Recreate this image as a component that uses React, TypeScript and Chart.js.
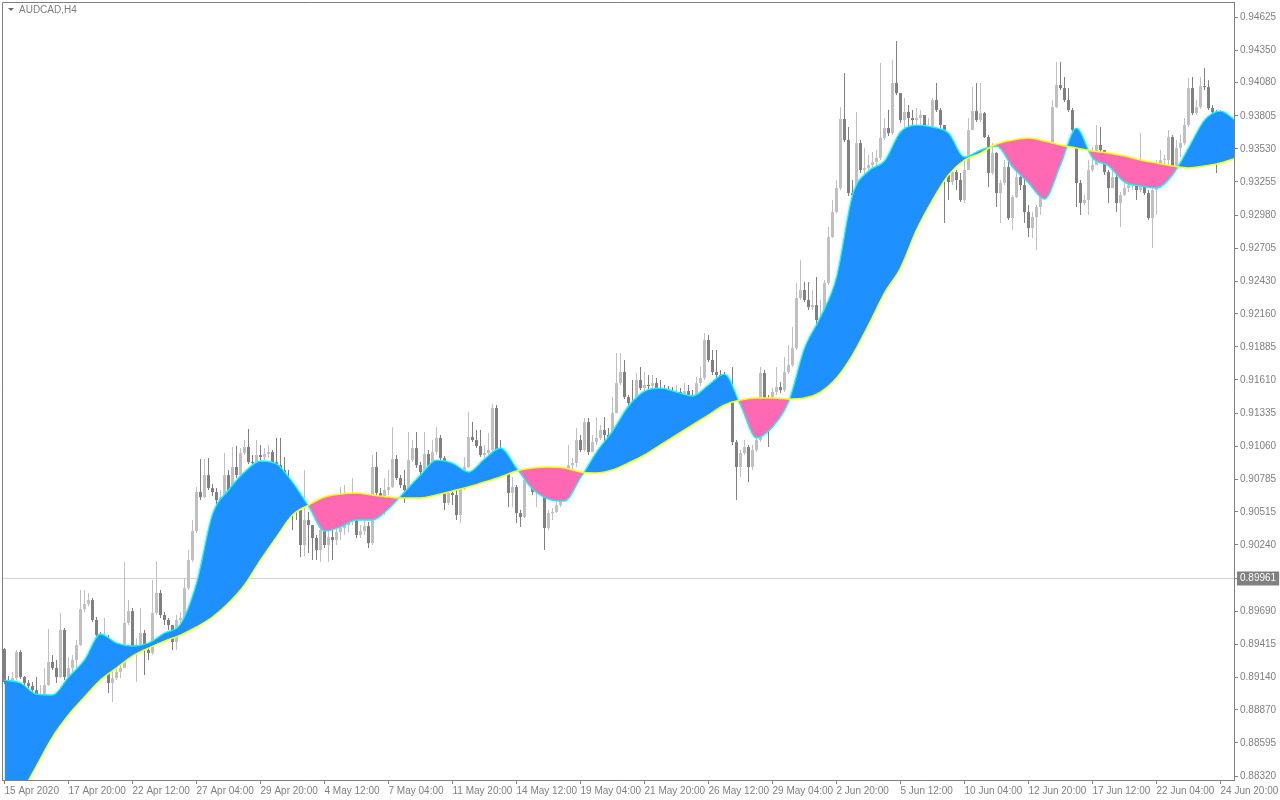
import React, { useEffect, useRef } from "react";
import { Chart, registerables } from "chart.js";

Chart.register(...registerables);

const symbolTitle = "AUDCAD,H4";

const dateLabels = [
  "15 Apr 2020", "17 Apr 20:00", "22 Apr 12:00", "27 Apr 04:00", "29 Apr 20:00",
  "4 May 12:00", "7 May 04:00", "11 May 20:00", "14 May 12:00", "19 May 04:00",
  "21 May 20:00", "26 May 12:00", "29 May 04:00", "2 Jun 20:00", "5 Jun 12:00",
  "10 Jun 04:00", "12 Jun 20:00", "17 Jun 12:00", "22 Jun 04:00", "24 Jun 20:00",
];
const dateLabelBars = [0, 16, 32, 48, 64, 80, 96, 112, 128, 144, 160, 176, 192, 208, 224, 240, 256, 272, 288, 304];

const priceTicks = [
  0.94625, 0.9435, 0.9408, 0.93805, 0.9353, 0.93255, 0.9298, 0.92705, 0.9243, 0.9216,
  0.91885, 0.9161, 0.91335, 0.9106, 0.90785, 0.90515, 0.9024, 0.89961, 0.8969, 0.89415,
  0.8914, 0.8887, 0.88595, 0.8832,
];
const currentPrice = 0.89961;

const firstOpen = 0.89375;

const closes = [
  0.89101, 0.89084, 0.89134, 0.8935, 0.89142, 0.89092, 0.89067, 0.89034, 0.88976, 0.89001,
  0.89076, 0.89267, 0.89217, 0.89142, 0.89533, 0.89142, 0.89217, 0.89283, 0.89408, 0.89707,
  0.89749, 0.89782, 0.89616, 0.89491, 0.8945, 0.89466, 0.89092, 0.89134, 0.89184, 0.89217,
  0.89591, 0.8969, 0.89391, 0.89408, 0.89508, 0.89366, 0.89342, 0.89674, 0.8984, 0.89657,
  0.89616, 0.89574, 0.89433, 0.89616, 0.89632, 0.89881, 0.90114, 0.90355, 0.90679, 0.90637,
  0.9082, 0.90712, 0.90679, 0.90612, 0.90637, 0.9082, 0.90671, 0.90887, 0.9082, 0.91003,
  0.91053, 0.90928, 0.9092, 0.90986, 0.9097, 0.90995, 0.91011, 0.90928, 0.90903, 0.90862,
  0.90779, 0.90696, 0.90571, 0.90529, 0.90239, 0.90446, 0.90405, 0.90297, 0.90197, 0.90363,
  0.90239, 0.90305, 0.9028, 0.90347, 0.9038, 0.90405, 0.90446, 0.90463, 0.90322, 0.90355,
  0.90396, 0.90255, 0.90887, 0.90671, 0.90646, 0.90696, 0.9072, 0.90953, 0.90795, 0.90737,
  0.90696, 0.90945, 0.91044, 0.90903, 0.90845, 0.90995, 0.90887, 0.91011, 0.91128, 0.90961,
  0.90588, 0.90671, 0.90654, 0.90488, 0.90704, 0.90887, 0.91136, 0.91111, 0.91061, 0.90986,
  0.91003, 0.91028, 0.91377, 0.91028, 0.90945, 0.90862, 0.90671, 0.9072, 0.90505, 0.90471,
  0.90779, 0.90795, 0.90679, 0.90737, 0.90696, 0.9038, 0.90505, 0.90513, 0.90571, 0.90671,
  0.90779, 0.90903, 0.9092, 0.91111, 0.91028, 0.9126, 0.91011, 0.91094, 0.91128, 0.91194,
  0.91153, 0.91111, 0.91335, 0.91584, 0.91676, 0.91468, 0.91418, 0.91402, 0.91609, 0.91543,
  0.91568, 0.9156, 0.91584, 0.91543, 0.91526, 0.9151, 0.91501, 0.91493, 0.9151, 0.91485,
  0.91518, 0.91485, 0.91468, 0.91584, 0.91626, 0.91942, 0.91776, 0.91676, 0.91651, 0.91626,
  0.91609, 0.91526, 0.91094, 0.90887, 0.91003, 0.91053, 0.90887, 0.91028, 0.91111, 0.91668,
  0.9146, 0.91402, 0.9151, 0.91551, 0.91526, 0.91676, 0.91734, 0.91875, 0.92291, 0.92357,
  0.92274, 0.92216, 0.92232, 0.92108, 0.92133, 0.92415, 0.92797, 0.93005, 0.93204, 0.93778,
  0.93603, 0.93163, 0.93146, 0.93578, 0.93354, 0.9337, 0.93395, 0.9342, 0.93454, 0.9362,
  0.93703, 0.93661, 0.94077, 0.93993, 0.93769, 0.93836, 0.93786, 0.93769, 0.93786, 0.93811,
  0.93694, 0.93711, 0.93935, 0.93852, 0.93728, 0.93437, 0.93254, 0.93337, 0.93271, 0.93105,
  0.93354, 0.93686, 0.93844, 0.93769, 0.93827, 0.93628, 0.93329, 0.93495, 0.93163, 0.93246,
  0.93379, 0.92955, 0.9313, 0.93296, 0.93229, 0.93005, 0.92872, 0.92963, 0.93047, 0.93146,
  0.93229, 0.93395, 0.93877, 0.9406, 0.94035, 0.93935, 0.93852, 0.93686, 0.93246, 0.9308,
  0.93105, 0.93354, 0.93395, 0.93562, 0.9352, 0.93337, 0.93204, 0.93296, 0.9308, 0.93146,
  0.93204, 0.93229, 0.93254, 0.93188, 0.93395, 0.93163, 0.92955, 0.93188, 0.93395, 0.93437,
  0.93437, 0.93628, 0.93379, 0.93537, 0.93578, 0.93728, 0.94035, 0.93827, 0.93877, 0.94052,
  0.94043, 0.93869, 0.93836, 0.93769, 0.93786, 0.93753, 0.93728,
];

const highs = [
  0.89383, 0.89151, 0.89184, 0.89366, 0.89366, 0.89151, 0.89117, 0.89101, 0.89142, 0.89076,
  0.89217, 0.89541, 0.89325, 0.89283, 0.89674, 0.89549, 0.89308, 0.89325, 0.8945, 0.89865,
  0.89865, 0.8984, 0.89798, 0.89641, 0.89516, 0.89632, 0.89491, 0.89242, 0.89283, 0.89325,
  0.90098, 0.89782, 0.89715, 0.89466, 0.89715, 0.89533, 0.89408, 0.89948, 0.90106, 0.89865,
  0.89682, 0.89632, 0.89574, 0.89657, 0.89682, 0.89965, 0.90197, 0.90446, 0.9072, 0.90953,
  0.90953, 0.90961, 0.90745, 0.90712, 0.90696, 0.91003, 0.90862, 0.91053, 0.91061, 0.91044,
  0.91111, 0.91202, 0.90986, 0.91111, 0.91069, 0.91044, 0.91069, 0.91028, 0.91128, 0.91128,
  0.9097, 0.90862, 0.90696, 0.90654, 0.90529, 0.90862, 0.90513, 0.9038, 0.90322, 0.9043,
  0.90529, 0.90405, 0.90363, 0.90488, 0.9072, 0.90737, 0.90554, 0.90795, 0.90637, 0.90405,
  0.90488, 0.9043, 0.90986, 0.91011, 0.90712, 0.90795, 0.90862, 0.91219, 0.90986, 0.9082,
  0.90862, 0.91177, 0.91111, 0.91177, 0.90928, 0.91177, 0.91028, 0.91111, 0.91219, 0.91153,
  0.90978, 0.90712, 0.90737, 0.90704, 0.90737, 0.9097, 0.91344, 0.9126, 0.91194, 0.91194,
  0.91069, 0.91169, 0.9141, 0.91402, 0.91111, 0.90986, 0.90862, 0.90804, 0.90737, 0.90529,
  0.90804, 0.90862, 0.9082, 0.90862, 0.90754, 0.90712, 0.90529, 0.90546, 0.90612, 0.90737,
  0.90862, 0.91069, 0.90961, 0.91211, 0.91153, 0.91294, 0.91294, 0.91153, 0.91302, 0.91236,
  0.91302, 0.91211, 0.91468, 0.91834, 0.91834, 0.91776, 0.91485, 0.91609, 0.91668, 0.91717,
  0.91676, 0.91651, 0.91651, 0.91626, 0.91609, 0.91568, 0.9156, 0.91551, 0.91568, 0.91543,
  0.91584, 0.91568, 0.91526, 0.91634, 0.91717, 0.92, 0.91983, 0.91859, 0.91859, 0.91692,
  0.91676, 0.91626, 0.91717, 0.91111, 0.91028, 0.91111, 0.91069, 0.91069, 0.91153, 0.91717,
  0.91692, 0.91485, 0.91543, 0.91717, 0.91593, 0.918, 0.919, 0.9205, 0.92415, 0.92606,
  0.92423, 0.92423, 0.92357, 0.92465, 0.92274, 0.9244, 0.9288, 0.93105, 0.93271, 0.93877,
  0.9416, 0.93711, 0.93271, 0.93836, 0.93603, 0.93537, 0.93478, 0.93503, 0.9352, 0.94243,
  0.93786, 0.93852, 0.94268, 0.94425, 0.93993, 0.93952, 0.93894, 0.93852, 0.93869, 0.93852,
  0.93769, 0.93786, 0.93952, 0.94077, 0.93869, 0.93711, 0.93354, 0.93395, 0.93354, 0.93329,
  0.93462, 0.93786, 0.94043, 0.94077, 0.94077, 0.93836, 0.93645, 0.93578, 0.93503, 0.93271,
  0.93437, 0.93437, 0.93146, 0.93379, 0.93354, 0.93287, 0.93063, 0.93005, 0.93063, 0.93229,
  0.93271, 0.9352, 0.93935, 0.94251, 0.94251, 0.94126, 0.94035, 0.93869, 0.93545, 0.93271,
  0.93146, 0.93437, 0.93545, 0.93728, 0.93711, 0.93437, 0.93354, 0.93437, 0.93312, 0.93171,
  0.93287, 0.93271, 0.93312, 0.93271, 0.93661, 0.93354, 0.93188, 0.93204, 0.93437, 0.9352,
  0.93478, 0.93686, 0.93645, 0.93603, 0.93645, 0.93786, 0.94118, 0.94126, 0.93935, 0.94126,
  0.94201, 0.94101, 0.93894, 0.93852, 0.93852, 0.93836, 0.93794,
];

const lows = [
  0.89084, 0.89034, 0.89051, 0.89117, 0.89126, 0.89051, 0.89001, 0.88968, 0.88959, 0.88951,
  0.88976, 0.89067, 0.892, 0.89092, 0.89134, 0.89117, 0.89059, 0.89159, 0.89217, 0.894,
  0.89682, 0.89732, 0.89599, 0.8945, 0.89366, 0.89383, 0.89009, 0.88934, 0.89117, 0.89134,
  0.89283, 0.89574, 0.89366, 0.89101, 0.89366, 0.89159, 0.89283, 0.89325, 0.89657, 0.89632,
  0.89574, 0.89533, 0.89366, 0.89366, 0.89582, 0.89599, 0.89865, 0.90098, 0.90338, 0.90612,
  0.90629, 0.90696, 0.90646, 0.90571, 0.90563, 0.90621, 0.90646, 0.90654, 0.90795, 0.90804,
  0.90986, 0.90912, 0.90878, 0.90903, 0.90945, 0.90945, 0.90961, 0.90903, 0.90862, 0.90795,
  0.90712, 0.90637, 0.90363, 0.90446, 0.90139, 0.90147, 0.90172, 0.90114, 0.90114, 0.90098,
  0.90214, 0.90098, 0.90114, 0.90239, 0.9028, 0.90322, 0.90347, 0.90405, 0.90297, 0.90297,
  0.90322, 0.90214, 0.90239, 0.90612, 0.90571, 0.90488, 0.90654, 0.90712, 0.90779, 0.90712,
  0.90588, 0.90679, 0.90928, 0.90878, 0.90812, 0.90829, 0.90862, 0.90878, 0.90986, 0.90945,
  0.90529, 0.90571, 0.90571, 0.90446, 0.90421, 0.90696, 0.90878, 0.91094, 0.91044, 0.9097,
  0.90945, 0.90961, 0.91011, 0.91011, 0.90862, 0.9082, 0.90554, 0.90554, 0.90421, 0.90388,
  0.90463, 0.90737, 0.90654, 0.90554, 0.90654, 0.90197, 0.90363, 0.90446, 0.90505, 0.90554,
  0.90654, 0.9082, 0.90845, 0.90887, 0.91011, 0.91011, 0.90986, 0.91028, 0.91069, 0.91111,
  0.91094, 0.91069, 0.91111, 0.91335, 0.91568, 0.91452, 0.91377, 0.91377, 0.91402, 0.91526,
  0.9151, 0.91526, 0.91543, 0.9151, 0.91485, 0.91468, 0.9146, 0.91443, 0.9146, 0.91443,
  0.91476, 0.9146, 0.91443, 0.9146, 0.9156, 0.91609, 0.91759, 0.91651, 0.91609, 0.91568,
  0.91526, 0.9146, 0.91069, 0.90612, 0.90804, 0.90986, 0.90762, 0.90862, 0.91011, 0.91094,
  0.9136, 0.91053, 0.9136, 0.91485, 0.91501, 0.9151, 0.91659, 0.91717, 0.91859, 0.92274,
  0.92257, 0.92191, 0.92191, 0.92066, 0.92066, 0.92108, 0.92399, 0.92789, 0.92997, 0.93188,
  0.93586, 0.93138, 0.93121, 0.9313, 0.93329, 0.93312, 0.93337, 0.93354, 0.93354, 0.93437,
  0.93603, 0.93636, 0.93645, 0.93977, 0.93744, 0.93686, 0.93703, 0.93686, 0.93719, 0.93728,
  0.93678, 0.9367, 0.93703, 0.93836, 0.93703, 0.92914, 0.93105, 0.93229, 0.93188, 0.93088,
  0.9308, 0.93354, 0.93686, 0.93753, 0.93753, 0.9362, 0.93213, 0.93312, 0.93047, 0.92914,
  0.93229, 0.92938, 0.92855, 0.93121, 0.93188, 0.92914, 0.92797, 0.92789, 0.92689, 0.9298,
  0.93105, 0.93188, 0.93354, 0.93869, 0.94018, 0.93919, 0.93836, 0.9367, 0.93047, 0.9298,
  0.93063, 0.9298, 0.93337, 0.93412, 0.93503, 0.93312, 0.9308, 0.93229, 0.93005, 0.9288,
  0.93138, 0.93171, 0.93188, 0.93105, 0.93171, 0.93146, 0.92938, 0.92706, 0.9298, 0.93354,
  0.93246, 0.93379, 0.93354, 0.9337, 0.93462, 0.93562, 0.93711, 0.93811, 0.93811, 0.93861,
  0.94018, 0.93852, 0.93769, 0.93329, 0.93728, 0.93703, 0.93686,
];

// Moving averages, one reading every 4 bars (bar 0, 4, 8, ... 308)
const maStep = 4;
const fastMA = [
  0.89117, 0.89093, 0.89001, 0.88993, 0.89142, 0.89284, 0.895, 0.89425, 0.894, 0.89425,
  0.89508, 0.89583, 0.89923, 0.90496, 0.90696, 0.90845, 0.90937, 0.90912, 0.90762, 0.90563,
  0.90355, 0.90388, 0.90447, 0.90447, 0.90538, 0.90679, 0.9082, 0.90945, 0.9092, 0.90845,
  0.90953, 0.91045, 0.90879, 0.90704, 0.90621, 0.90604, 0.90796, 0.91011, 0.91186, 0.91394,
  0.91518, 0.91543, 0.9151, 0.91477, 0.91568, 0.91659, 0.91402, 0.91128, 0.91219, 0.91427,
  0.91875, 0.92133, 0.92465, 0.93146, 0.93346, 0.93429, 0.9367, 0.93728, 0.93711, 0.93661,
  0.93462, 0.9352, 0.93553, 0.93379, 0.93246, 0.93113, 0.93396, 0.93703, 0.93454, 0.93387,
  0.93254, 0.93221, 0.93205, 0.93313, 0.93537, 0.93769, 0.93844, 0.93761,
];
const slowMA = [
  0.87913, 0.88162, 0.88403, 0.88644, 0.88827, 0.88976, 0.89117, 0.89217, 0.89317, 0.89383,
  0.89441, 0.89491, 0.89558, 0.89641, 0.89757, 0.89907, 0.90114, 0.90305, 0.90488, 0.90571,
  0.90638, 0.90663, 0.90671, 0.90654, 0.90638, 0.90629, 0.90629, 0.90654, 0.90688, 0.90721,
  0.90762, 0.90804, 0.90854, 0.90879, 0.90887, 0.90879, 0.90845, 0.90837, 0.90862, 0.9092,
  0.90987, 0.9107, 0.91153, 0.91236, 0.91319, 0.91402, 0.91443, 0.9146, 0.9146, 0.91452,
  0.9146, 0.9151, 0.91626, 0.91817, 0.92066, 0.92332, 0.9254, 0.92856, 0.93105, 0.93313,
  0.93437, 0.93495, 0.9357, 0.93603, 0.9362, 0.93595, 0.93562, 0.93537, 0.93512, 0.93495,
  0.9347, 0.93437, 0.93412, 0.93387, 0.93371, 0.93387, 0.93412, 0.93454,
];

const BULL = "#C0C0C0";
const BEAR = "#808080";
const AXIS = "#808080";
const FONT = '"Liberation Sans", Arial, sans-serif';

export default function App() {
  const ref = useRef<HTMLCanvasElement | null>(null);

  useEffect(() => {
    if (!ref.current) return;
    const opens = closes.map((c, i) => (i === 0 ? firstOpen : closes[i - 1]));
    const colors = closes.map((c, i) => (c >= opens[i] ? BULL : BEAR));
    const wickData = closes.map((c, i) => ({
      x: i,
      y: [Math.min(lows[i], opens[i], c), Math.max(highs[i], opens[i], c)],
    }));
    const bodyData = closes.map((c, i) => ({ x: i, y: [opens[i], c] }));
    const fastData = fastMA.map((v, k) => ({ x: k * maStep, y: v }));
    const slowData = slowMA.map((v, k) => ({ x: k * maStep, y: v }));

    const framePlugin = {
      id: "frame",
      afterDraw(chart: any) {
        const { ctx, chartArea } = chart;
        ctx.save();
        ctx.strokeStyle = AXIS;
        ctx.lineWidth = 1;
        ctx.beginPath();
        ctx.moveTo(chartArea.left + 0.5, chartArea.bottom);
        ctx.lineTo(chartArea.left + 0.5, chartArea.top + 0.5);
        ctx.lineTo(chartArea.right, chartArea.top + 0.5);
        ctx.stroke();
        ctx.restore();
      },
    };

    const chart = new Chart(ref.current, {
      type: "line",
      data: {
        datasets: [
          {
            type: "line",
            label: "slow",
            data: slowData,
            borderColor: "#FFFF00",
            borderWidth: 1.5,
            pointRadius: 0,
            fill: false,
            order: 0,
            cubicInterpolationMode: "monotone",
          },
          {
            type: "line",
            label: "fast",
            data: fastData,
            borderColor: "#00FFFF",
            borderWidth: 1.3,
            pointRadius: 0,
            fill: { target: 0, above: "#1E90FF", below: "#FF69B4" },
            order: 1,
            cubicInterpolationMode: "monotone",
          },
          {
            type: "bar",
            label: "wick",
            data: wickData as any,
            backgroundColor: colors,
            borderWidth: 0,
            barThickness: 1,
            grouped: false,
            inflateAmount: 0,
            order: 3,
          },
          {
            type: "bar",
            label: "body",
            data: bodyData as any,
            backgroundColor: colors,
            borderWidth: 0,
            barThickness: 3,
            grouped: false,
            inflateAmount: 0,
            minBarLength: 1,
            order: 2,
          },
        ] as any,
      },
      options: {
        responsive: false,
        devicePixelRatio: 1,
        animation: false,
        events: [],
        layout: { padding: { left: 2, top: 2, right: 0, bottom: 0 } },
        plugins: {
          legend: { display: false },
          tooltip: { enabled: false },
        },
        scales: {
          x: {
            type: "linear",
            min: -0.625,
            max: 307.375,
            offset: false,
            afterBuildTicks: (s: any) => {
              s.ticks = dateLabelBars.map((v) => ({ value: v }));
            },
            afterFit: (s: any) => {
              s.height = 20;
              s.paddingLeft = 0;
              s.paddingRight = 0;
            },
            ticks: {
              autoSkip: false,
              maxRotation: 0,
              minRotation: 0,
              align: "start",
              padding: 1,
              color: AXIS,
              font: { family: FONT, size: 10 },
              callback: (_v: any, idx: number) => dateLabels[idx],
            },
            grid: {
              offset: false,
              drawOnChartArea: false,
              drawTicks: true,
              tickLength: 4,
              tickColor: AXIS,
            },
            border: { display: true, color: AXIS },
          },
          y: {
            type: "linear",
            position: "right",
            min: 0.88287,
            max: 0.9475,
            afterBuildTicks: (s: any) => {
              s.ticks = priceTicks.map((v) => ({ value: v }));
            },
            afterFit: (s: any) => {
              s.width = 46;
              s.paddingTop = 0;
              s.paddingBottom = 0;
            },
            ticks: {
              autoSkip: false,
              padding: 2,
              font: { family: FONT, size: 10 },
              color: (ctx: any) => (ctx.tick && ctx.tick.value === currentPrice ? "#FFFFFF" : AXIS),
              showLabelBackdrop: true,
              backdropColor: (ctx: any) =>
                ctx.tick && ctx.tick.value === currentPrice ? "#808080" : "rgba(0,0,0,0)",
              backdropPadding: { top: 1, bottom: 1, left: 3, right: 3 },
              callback: (v: any) => Number(v).toFixed(5),
            },
            grid: {
              drawOnChartArea: true,
              drawTicks: true,
              tickLength: 4,
              tickColor: AXIS,
              color: (ctx: any) =>
                ctx.tick && ctx.tick.value === currentPrice ? "#D3D3D3" : "rgba(0,0,0,0)",
            },
            border: { display: true, color: AXIS },
          },
        },
      } as any,
      plugins: [framePlugin],
    });

    return () => chart.destroy();
  }, []);

  return (
    <div style={{ position: "absolute", left: 0, top: 0, width: 1280, height: 800, background: "#FFFFFF" }}>
      <canvas ref={ref} width={1280} height={800} style={{ display: "block" }} />
      <div
        style={{
          position: "absolute",
          left: 8,
          top: 4,
          display: "flex",
          alignItems: "center",
          font: `10px ${FONT}`,
          color: "#7d7d7d",
          whiteSpace: "nowrap",
        }}
      >
        <span
          style={{
            display: "inline-block",
            width: 0,
            height: 0,
            borderLeft: "3px solid transparent",
            borderRight: "3px solid transparent",
            borderTop: "3px solid #6a6a6a",
            marginRight: 5,
          }}
        />
        <span>{symbolTitle}</span>
      </div>
    </div>
  );
}
